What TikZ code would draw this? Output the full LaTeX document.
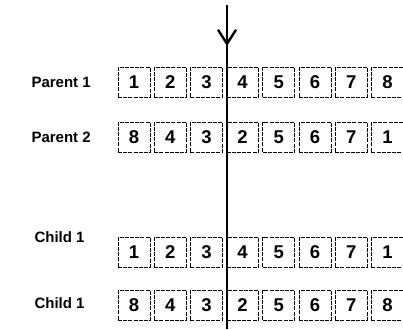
\documentclass[tikz,border=0pt]{standalone}
\usepackage{fontspec}
\setmainfont{Liberation Sans}
\usetikzlibrary{arrows.meta,positioning}

\begin{document}
\begin{tikzpicture}[x=1pt, y=1pt, node distance=3.5pt,
  cell/.style={draw, dash pattern=on 4pt off 1.2pt, line width=0.7pt, minimum width=32pt, minimum height=30pt, inner sep=0pt, font=\fontsize{18.5}{20}\selectfont\bfseries},
  rowname/.style={anchor=west, font=\fontsize{15}{17}\selectfont\bfseries}]
  \useasboundingbox (0,0) rectangle (403,-329);
  % first parent
  \node[rowname] (lpa) at (28,-82) {Parent 1};
  \node[cell] (pa1) at (134,-82) {1};
  \node[cell, right=of pa1] (pa2) {2};
  \node[cell, right=of pa2] (pa3) {3};
  \node[cell, right=of pa3] (pa4) {4};
  \node[cell, right=of pa4] (pa5) {5};
  \node[cell, right=of pa5] (pa6) {6};
  \node[cell, right=of pa6] (pa7) {7};
  \node[cell, right=of pa7] (pa8) {8};
  % second parent
  \node[rowname] (lpb) at (28,-137) {Parent 2};
  \node[cell] (pb1) at (134,-137) {8};
  \node[cell, right=of pb1] (pb2) {4};
  \node[cell, right=of pb2] (pb3) {3};
  \node[cell, right=of pb3] (pb4) {2};
  \node[cell, right=of pb4] (pb5) {5};
  \node[cell, right=of pb5] (pb6) {6};
  \node[cell, right=of pb6] (pb7) {7};
  \node[cell, right=of pb7] (pb8) {1};
  % first child
  \node[rowname] (lca) at (31,-237) {Child 1};
  \node[cell] (ca1) at (134,-252) {1};
  \node[cell, right=of ca1] (ca2) {2};
  \node[cell, right=of ca2] (ca3) {3};
  \node[cell, right=of ca3] (ca4) {4};
  \node[cell, right=of ca4] (ca5) {5};
  \node[cell, right=of ca5] (ca6) {6};
  \node[cell, right=of ca6] (ca7) {7};
  \node[cell, right=of ca7] (ca8) {1};
  % second child
  \node[rowname] (lcb) at (31,-303) {Child 1};
  \node[cell] (cb1) at (134,-305) {8};
  \node[cell, right=of cb1] (cb2) {4};
  \node[cell, right=of cb2] (cb3) {3};
  \node[cell, right=of cb3] (cb4) {2};
  \node[cell, right=of cb4] (cb5) {5};
  \node[cell, right=of cb5] (cb6) {6};
  \node[cell, right=of cb6] (cb7) {7};
  \node[cell, right=of cb7] (cb8) {8};
  % crossover point
  \coordinate (cuttop) at (227,-5);
  \coordinate (cuttip) at (227,-46);
  \coordinate (cutbot) at (227,-329);
  \draw[line width=2.4pt] (cuttop) -- (cutbot);
  \draw[line width=2.4pt, -{Straight Barb[length=14pt,width=18pt]}] (cuttop) -- (cuttip);
\end{tikzpicture}
\end{document}
